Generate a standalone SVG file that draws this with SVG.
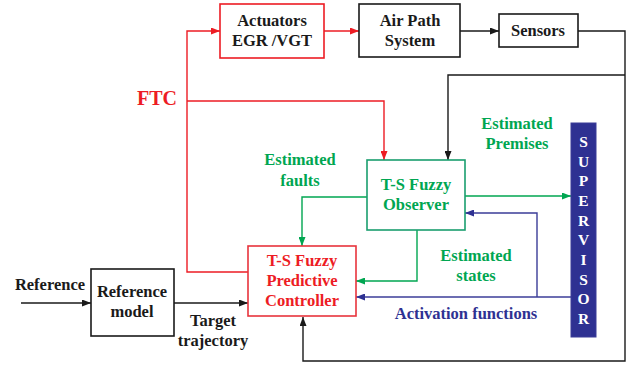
<svg xmlns="http://www.w3.org/2000/svg" width="634" height="367" viewBox="0 0 634 367">
<defs>
<marker id="ak" markerWidth="9" markerHeight="7" refX="9" refY="3.5" orient="auto" markerUnits="userSpaceOnUse"><path d="M0,0 L9,3.5 L0,7 Z" fill="#1a1a1a"/></marker>
<marker id="ar" markerWidth="9" markerHeight="7" refX="9" refY="3.5" orient="auto" markerUnits="userSpaceOnUse"><path d="M0,0 L9,3.5 L0,7 Z" fill="#ed1c24"/></marker>
<marker id="ag" markerWidth="9" markerHeight="7" refX="9" refY="3.5" orient="auto" markerUnits="userSpaceOnUse"><path d="M0,0 L9,3.5 L0,7 Z" fill="#00a651"/></marker>
<marker id="ab" markerWidth="9" markerHeight="7" refX="9" refY="3.5" orient="auto" markerUnits="userSpaceOnUse"><path d="M0,0 L9,3.5 L0,7 Z" fill="#2e3192"/></marker>
</defs>
<style>
text{font-family:"Liberation Serif","Times New Roman",serif;font-weight:bold;font-size:16.5px;text-anchor:middle}
.k{fill:#1a1a1a}.r{fill:#ed1c24}.g{fill:#00a651}.b{fill:#2e3192}.w{fill:#ffffff;font-size:15.5px}
.box{fill:#fff;stroke-width:1.6}
.lk,.lr,.lg,.lb{fill:none;stroke-width:1.4}
.lk{stroke:#1a1a1a}.lr{stroke:#ed1c24}.lg{stroke:#00a651}.lb{stroke:#3b3d98}
</style>
<rect width="634" height="367" fill="#fff"/>
<g id="connectors">
<path class="lr" d="M324,31 H359" marker-end="url(#ar)"/>
<path class="lk" d="M460,31 H499" marker-end="url(#ak)"/>
<path class="lk" d="M578,31 H625 V361 H303 V317" marker-end="url(#ak)"/>
<path class="lk" d="M625,75 H448 V160" marker-end="url(#ak)"/>
<path class="lr" d="M248,272 H187 V31 H220" marker-end="url(#ar)"/>
<path class="lr" d="M187,101 H384 V160" marker-end="url(#ar)"/>
<path class="lg" d="M367,197 H302 V246" marker-end="url(#ag)"/>
<path class="lg" d="M465,196 H571" marker-end="url(#ag)"/>
<path class="lg" d="M417,230 V281 H356" marker-end="url(#ag)"/>
<path class="lb" d="M571,297 H356" marker-end="url(#ab)"/>
<path class="lb" d="M537,297 V213 H465" marker-end="url(#ab)"/>
<path class="lk" d="M21,303 H91" marker-end="url(#ak)"/>
<path class="lk" d="M174,303 H248" marker-end="url(#ak)"/>
</g>
<g id="actuators"><rect class="box" x="220" y="4" width="104" height="54" stroke="#ed1c24"/><text class="k" x="272" y="26">Actuators</text><text class="k" x="272" y="46">EGR /VGT</text></g>
<g id="airpath"><rect class="box" x="359" y="4" width="101" height="53" stroke="#1a1a1a"/><text class="k" x="410" y="26">Air Path</text><text class="k" x="410" y="46">System</text></g>
<g id="sensors"><rect class="box" x="499" y="14" width="79" height="33" stroke="#1a1a1a"/><text class="k" x="538" y="36">Sensors</text></g>
<g id="observer"><rect class="box" x="367" y="160" width="98" height="70" stroke="#1a9e6e"/><text class="g" x="416" y="190">T-S Fuzzy</text><text class="g" x="416" y="210">Observer</text></g>
<g id="controller"><rect class="box" x="248" y="246" width="108" height="70" stroke="#e8343c"/><text class="r" x="302" y="266">T-S Fuzzy</text><text class="r" x="302" y="286">Predictive</text><text class="r" x="302" y="306">Controller</text></g>
<g id="refmodel"><rect class="box" x="91" y="269" width="83" height="67" stroke="#1a1a1a"/><text class="k" x="132" y="297">Reference</text><text class="k" x="132" y="317">model</text></g>
<g id="supervisor"><rect x="571" y="123" width="25" height="214" fill="#2e3192" stroke="#3b3d98" stroke-width="1"/>
<text class="w" x="583.5" y="147">S</text><text class="w" x="583.5" y="167">U</text><text class="w" x="583.5" y="186">P</text><text class="w" x="583.5" y="206">E</text><text class="w" x="583.5" y="226">R</text><text class="w" x="583.5" y="245">V</text><text class="w" x="583.5" y="265">I</text><text class="w" x="583.5" y="285">S</text><text class="w" x="583.5" y="304">O</text><text class="w" x="583.5" y="324">R</text></g>
<g id="labels">
<text class="r" x="157" y="105" style="font-size:20px">FTC</text>
<text class="g" x="300" y="165">Estimated</text><text class="g" x="300" y="186">faults</text>
<text class="g" x="517" y="129">Estimated</text><text class="g" x="517" y="149">Premises</text>
<text class="g" x="476" y="261">Estimated</text><text class="g" x="476" y="281">states</text>
<text class="b" x="466" y="319">Activation functions</text>
<text class="k" x="50" y="290">Reference</text>
<text class="k" x="213" y="326">Target</text><text class="k" x="213" y="346">trajectory</text>
</g>
</svg>
